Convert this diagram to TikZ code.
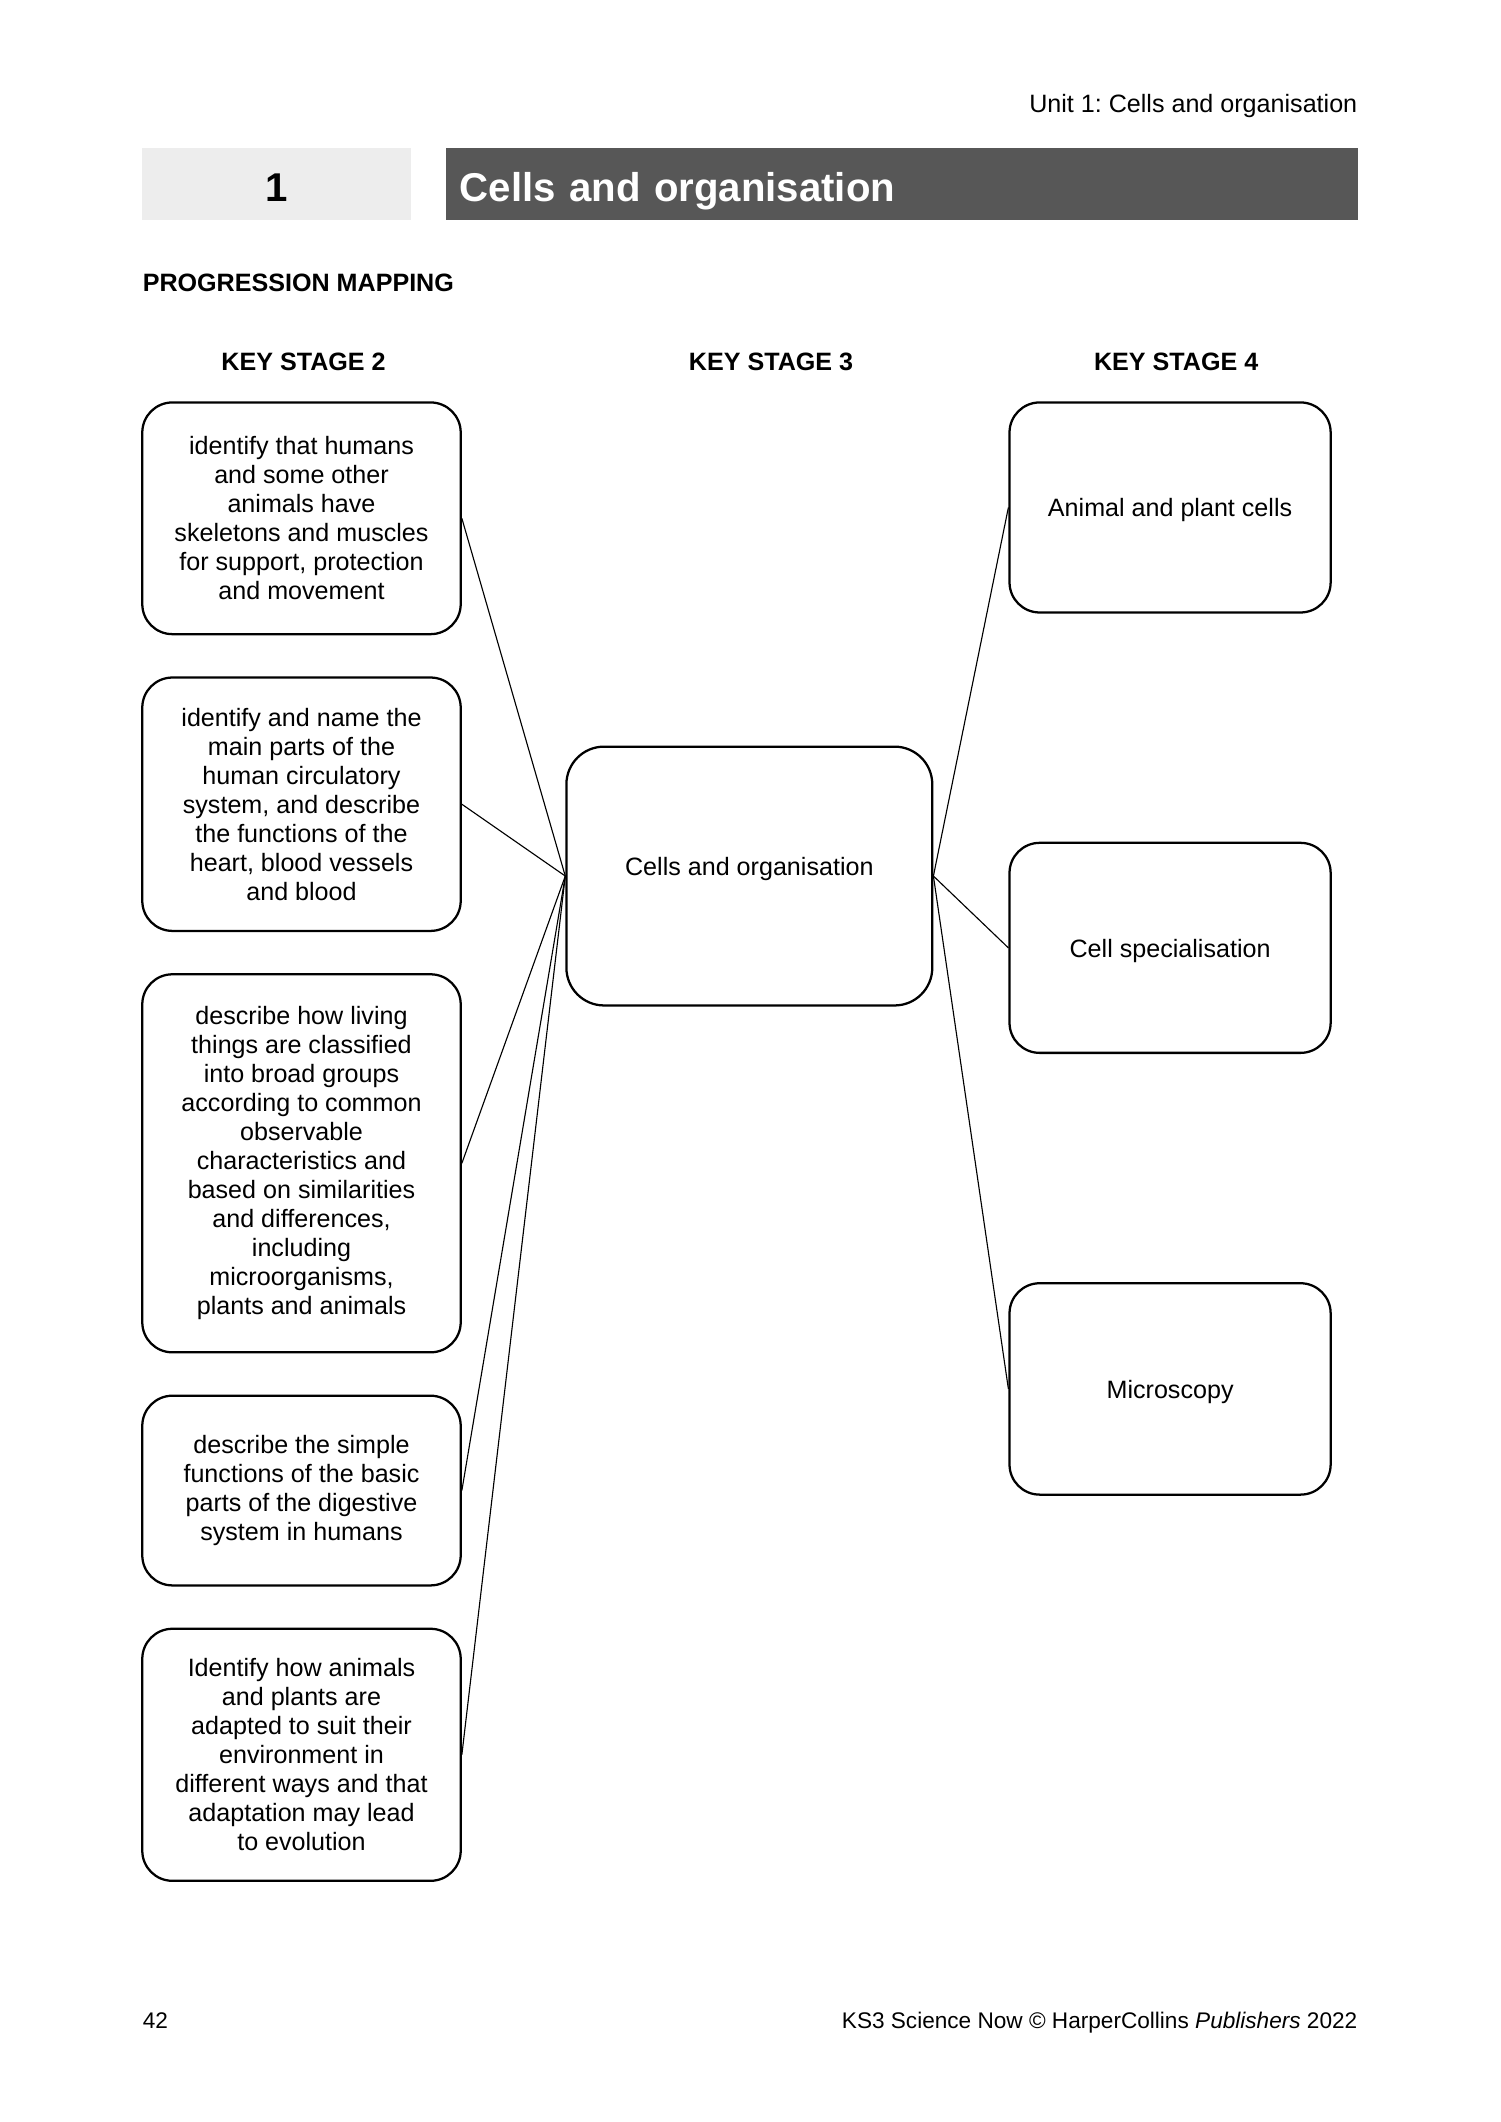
\documentclass[tikz,border=0pt]{standalone}
\usepackage{fontspec}
\setmainfont{Liberation Sans}
\usetikzlibrary{calc}
\definecolor{lightbar}{HTML}{EDEDED}
\definecolor{darkbar}{HTML}{575757}
\newcommand{\pu}{0.018970cm}
\newcommand{\bodyfont}{\fontsize{10}{11.55}\selectfont}
\newcommand{\footfont}{\fontsize{9}{10.5}\selectfont}
\frenchspacing

\begin{document}
\begin{tikzpicture}[x=\pu,y=-\pu,
    every node/.style={font=\bodyfont},
    ksbox/.style={draw,rounded corners=12pt,line width=0.9pt,align=center,inner sep=0pt},
    bar/.style={minimum height=53*\pu,inner ysep=0pt,text height=14.5pt,text depth=0pt,
      font=\fontsize{16}{19}\selectfont\bfseries},
    heading/.style={font=\bodyfont\bfseries,anchor=base,inner sep=0pt},
    link/.style={line width=0.45pt}]
  \useasboundingbox (0,0) rectangle (1107,1566);
  \begin{scope}
    \node[anchor=base east,inner sep=0pt] (unit) at (1002,83) {Unit 1: Cells and organisation};
    \node[bar,fill=lightbar,minimum width=198*\pu,inner xsep=0pt] (num) at (204,135.5) {1};
    \node[bar,fill=darkbar,text=white,anchor=west,text width=653*\pu,inner xsep=10*\pu,
      align=left] (title) at (329,135.5) {Cells and organisation};
    \node[heading,anchor=base west] (mapping) at (105,215) {PROGRESSION MAPPING};
    \node[heading] (kstwo) at (224,273.5) {KEY STAGE 2};
    \node[heading] (ksthree) at (569,273.5) {KEY STAGE 3};
    \node[heading] (ksfour) at (868,273.5) {KEY STAGE 4};
  \end{scope}
  \begin{scope}
    \node[ksbox,minimum width=235*\pu,minimum height=171*\pu] (ska) at (222.5,382.5)
      {identify that humans\\and some other\\animals have\\skeletons and muscles\\for support, protection\\and movement};
    \node[ksbox,minimum width=235*\pu,minimum height=187*\pu] (skb) at (222.5,593.5)
      {identify and name the\\main parts of the\\human circulatory\\system, and describe\\the functions of the\\heart, blood vessels\\and blood};
    \node[ksbox,minimum width=235*\pu,minimum height=279*\pu] (skc) at (222.5,858.5)
      {describe how living\\things are classified\\into broad groups\\according to common\\observable\\characteristics and\\based on similarities\\and differences,\\including\\microorganisms,\\plants and animals};
    \node[ksbox,minimum width=235*\pu,minimum height=140*\pu] (skd) at (222.5,1100)
      {describe the simple\\functions of the basic\\parts of the digestive\\system in humans};
    \node[ksbox,minimum width=235*\pu,minimum height=186*\pu] (ske) at (222.5,1295)
      {Identify how animals\\and plants are\\adapted to suit their\\environment in\\different ways and that\\adaptation may lead\\to evolution};
  \end{scope}
  \node[ksbox,rounded corners=15pt,minimum width=270*\pu,minimum height=191*\pu,
    text height=7.3pt,text depth=8pt] (core) at (553,646.5) {Cells and organisation};
  \begin{scope}[every node/.append style={text height=7.3pt,text depth=0pt}]
    \node[ksbox,minimum width=237*\pu,minimum height=155*\pu] (cells) at (863.5,374.5) {Animal and plant cells};
    \node[ksbox,minimum width=237*\pu,minimum height=155*\pu] (special) at (863.5,699.5) {Cell specialisation};
    \node[ksbox,minimum width=237*\pu,minimum height=156*\pu] (micro) at (863.5,1025) {Microscopy};
  \end{scope}
  \draw[link] (ska.east) -- (core.west);
  \draw[link] (skb.east) -- (core.west);
  \draw[link] (skc.east) -- (core.west);
  \draw[link] (skd.east) -- (core.west);
  \draw[link] (ske.east) -- (core.west);
  \draw[link] (core.east) -- (cells.west);
  \draw[link] (core.east) -- (special.west);
  \draw[link] (core.east) -- (micro.west);
  \node[anchor=base west,inner sep=0pt,font=\footfont] (page) at (105,1497) {42};
  \node[anchor=base east,inner sep=0pt,font=\footfont] (credit) at (1002,1497) {KS3 Science Now © HarperCollins \textit{Publishers} 2022};
\end{tikzpicture}
\end{document}
